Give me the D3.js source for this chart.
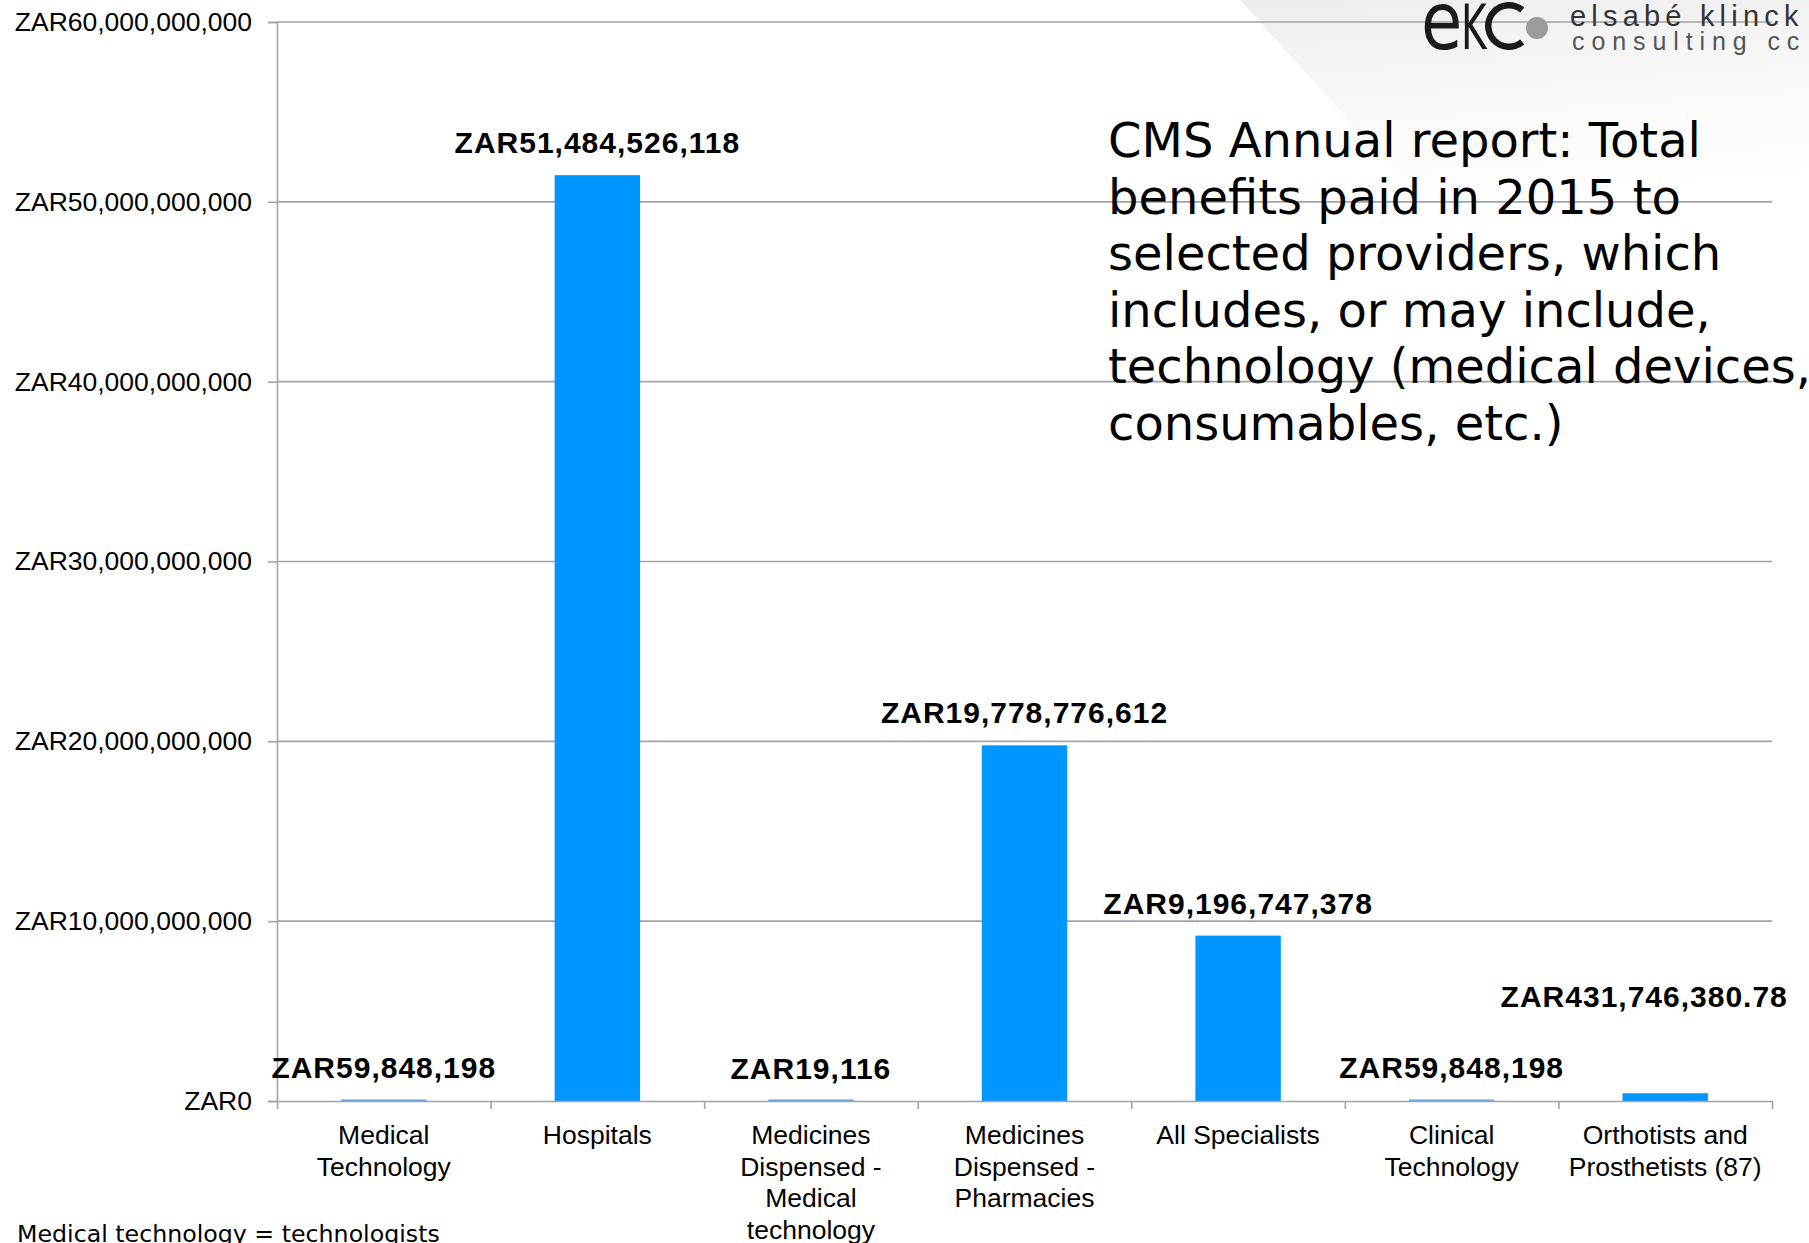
<!DOCTYPE html>
<html>
<head>
<meta charset="utf-8">
<script src="https://cdn.jsdelivr.net/npm/d3@7"></script>
<style>
  html, body { margin: 0; padding: 0; background: #ffffff; overflow: hidden; }
  svg { display: block; }
</style>
</head>
<body>
<svg id="chart" width="1809" height="1243"></svg>
<script>
// ---------------- data ----------------
const categories = [
  ["Medical", "Technology"],
  ["Hospitals"],
  ["Medicines", "Dispensed -", "Medical", "technology"],
  ["Medicines", "Dispensed -", "Pharmacies"],
  ["All Specialists"],
  ["Clinical", "Technology"],
  ["Orthotists and", "Prosthetists (87)"]
];
const values = [59848198, 51484526118, 19116, 19778776612, 9196747378, 59848198, 431746380.78];
const valueLabels = [
  "ZAR59,848,198", "ZAR51,484,526,118", "ZAR19,116", "ZAR19,778,776,612",
  "ZAR9,196,747,378", "ZAR59,848,198", "ZAR431,746,380.78"
];
const yTicks = [0, 10e9, 20e9, 30e9, 40e9, 50e9, 60e9];
const yTickLabels = [
  "ZAR0", "ZAR10,000,000,000", "ZAR20,000,000,000", "ZAR30,000,000,000",
  "ZAR40,000,000,000", "ZAR50,000,000,000", "ZAR60,000,000,000"
];
const titleLines = [
  "CMS Annual report: Total",
  "benefits paid in 2015 to",
  "selected providers, which",
  "includes, or may include,",
  "technology (medical devices,",
  "consumables, etc.)"
];
const footnote = "Medical technology = technologists";

// ---------------- layout ----------------
const svg = d3.select("#chart");
const plot = { left: 277, right: 1772, top: 22, bottom: 1101 };
const gridColor = "#a3a3a3";
const barColor = "#0096ff";

// background diagonal shading (top-right, behind logo)
const defs = svg.append("defs");
const grad = defs.append("linearGradient").attr("id", "bgGrad")
  .attr("x1", "0.1").attr("y1", "0").attr("x2", "0.3").attr("y2", "1");
grad.append("stop").attr("offset", "0").attr("stop-color", "#eeeeee");
grad.append("stop").attr("offset", "0.5").attr("stop-color", "#f8f8f8");
grad.append("stop").attr("offset", "1").attr("stop-color", "#ffffff");
svg.append("path")
  .attr("d", "M1240,0 L1809,0 L1809,210 L1430,210 Z")
  .attr("fill", "url(#bgGrad)");

const x = d3.scaleBand()
  .domain(d3.range(categories.length))
  .range([plot.left, plot.right])
  .paddingInner(0.6).paddingOuter(0.3);
const xTick = d3.scaleLinear().domain([0, categories.length]).range([plot.left, plot.right]);
const y = d3.scaleLinear().domain([0, 60e9]).range([plot.bottom, plot.top]);

// gridlines
svg.append("g").selectAll("line")
  .data(yTicks.filter(d => d > 0))
  .join("line")
  .attr("x1", plot.left).attr("x2", plot.right)
  .attr("y1", d => y(d)).attr("y2", d => y(d))
  .attr("stroke", gridColor).attr("stroke-width", 1.6);

// y axis
const yAxis = d3.axisLeft(y).tickValues(yTicks)
  .tickFormat((d, i) => yTickLabels[i]).tickSize(9).tickPadding(16);
const gy = svg.append("g").attr("transform", `translate(${plot.left},0)`).call(yAxis);
gy.select(".domain").attr("stroke", gridColor).attr("stroke-width", 1.6);
gy.selectAll(".tick line").attr("stroke", gridColor).attr("stroke-width", 1.6);
gy.selectAll(".tick text")
  .attr("font-family", "'Liberation Sans', Arial, sans-serif")
  .attr("font-size", 26.5).attr("fill", "#000");

// bars
svg.append("g").selectAll("rect")
  .data(values)
  .join("rect")
  .attr("x", (d, i) => x(i))
  .attr("width", x.bandwidth())
  .attr("y", d => Math.min(y(d), plot.bottom - 1.5))
  .attr("height", d => Math.max(plot.bottom - y(d), 1.5))
  .attr("fill", (d, i) => (plot.bottom - y(d)) < 2 ? "#5aa6e6" : barColor);

// x axis baseline + ticks
const xAxis = d3.axisBottom(xTick).tickValues(d3.range(categories.length + 1))
  .tickFormat("").tickSize(8).tickSizeOuter(0);
const gx = svg.append("g").attr("transform", `translate(0,${plot.bottom})`).call(xAxis);
gx.select(".domain").attr("stroke", gridColor).attr("stroke-width", 1.6);
gx.selectAll(".tick line").attr("stroke", gridColor).attr("stroke-width", 1.6);

// category labels
const catG = svg.append("g")
  .attr("font-family", "'Liberation Sans', Arial, sans-serif")
  .attr("font-size", 26.5).attr("fill", "#000").attr("text-anchor", "middle");
categories.forEach((lines, i) => {
  const t = catG.append("text").attr("x", x(i) + x.bandwidth() / 2).attr("y", plot.bottom + 43);
  lines.forEach((ln, j) => {
    t.append("tspan").attr("x", x(i) + x.bandwidth() / 2).attr("dy", j === 0 ? 0 : 31.5).text(ln);
  });
});

// value labels
const lblG = svg.append("g")
  .attr("font-family", "'Liberation Sans', Arial, sans-serif")
  .attr("font-size", 30).attr("font-weight", "bold").attr("fill", "#000")
  .attr("letter-spacing", 1).attr("text-anchor", "middle");
valueLabels.forEach((lab, i) => {
  let cx = x(i) + x.bandwidth() / 2;
  let by = y(values[i]) - 22;
  if (i === values.length - 1) { cx -= 21; by -= 64; } // last label lifted & nudged, as in source
  lblG.append("text").attr("x", cx).attr("y", by).text(lab);
});

// title block
const tG = svg.append("g")
  .attr("font-family", "'DejaVu Sans', Verdana, sans-serif")
  .attr("font-size", 48).attr("fill", "#000");
titleLines.forEach((ln, i) => {
  tG.append("text").attr("x", 1108).attr("y", 157 + i * 56.6).text(ln);
});

// footnote
svg.append("text")
  .attr("x", 17).attr("y", 1242)
  .attr("font-family", "'DejaVu Sans', Verdana, sans-serif")
  .attr("font-size", 23.7).attr("fill", "#000")
  .text(footnote);

// logo
const logo = svg.append("g");
logo.append("text").attr("transform", "translate(1421,49) scale(0.84,1)")
  .attr("font-family", "'DejaVu Sans', sans-serif").attr("font-size", 80)
  .attr("fill", "#1a1a1a")
  .text("e");
logo.append("text").attr("transform", "translate(1461,49) scale(0.62,1)")
  .attr("font-family", "'DejaVu Sans', sans-serif").attr("font-size", 63)
  .attr("fill", "#1a1a1a")
  .text("K");
logo.append("path")
  .attr("d", d3.arc()({ innerRadius: 17.5, outerRadius: 24, startAngle: Math.PI * 0.78, endAngle: Math.PI * 2.22 }))
  .attr("transform", "translate(1509,26)").attr("fill", "#1a1a1a");
logo.append("circle").attr("cx", 1537).attr("cy", 28).attr("r", 11).attr("fill", "#9b9b9b");
logo.append("text").attr("x", 1570).attr("y", 26)
  .attr("font-family", "'Liberation Sans', Arial, sans-serif").attr("font-size", 29)
  .attr("letter-spacing", 5.2).attr("fill", "#333").text("elsabé klinck");
logo.append("text").attr("x", 1572).attr("y", 50)
  .attr("font-family", "'Liberation Sans', Arial, sans-serif").attr("font-size", 25)
  .attr("letter-spacing", 6.9).attr("fill", "#555").text("consulting cc");
</script>
</body>
</html>
